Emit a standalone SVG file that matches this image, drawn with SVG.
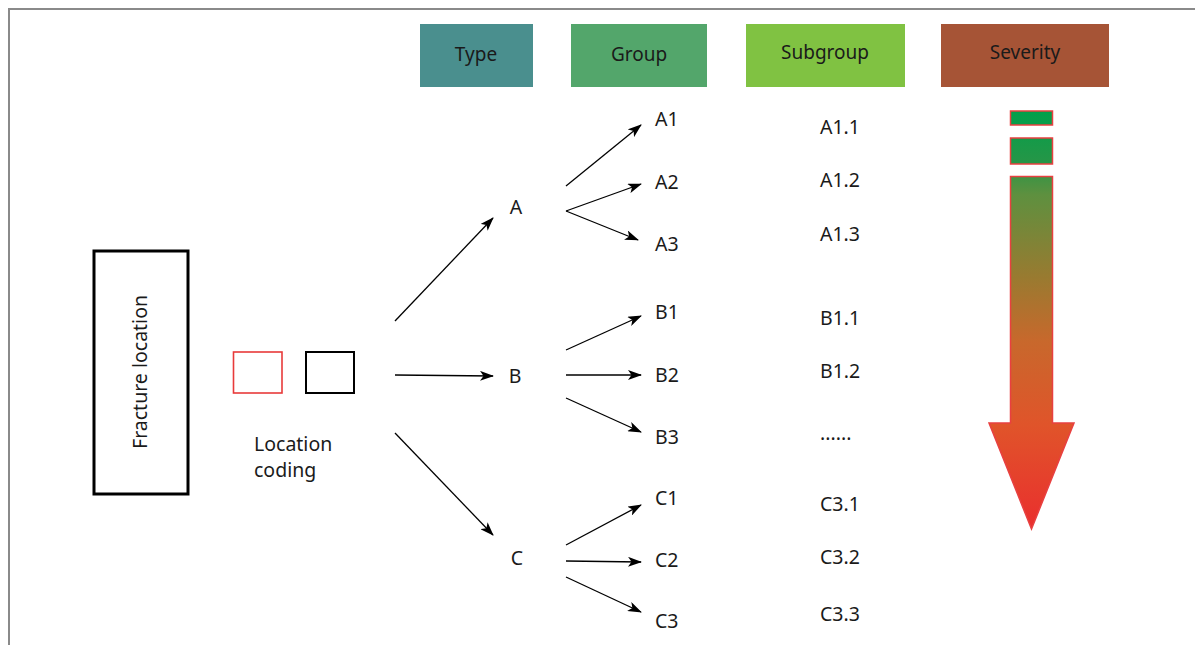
<svg xmlns="http://www.w3.org/2000/svg" width="1195" height="645" viewBox="0 0 1195 645">
<style>
  text { font-family: "Noto Sans", "Open Sans", sans-serif; fill: #1a1a1a; }
  .lbl { font-size: 19.5px; }
  .hdr { font-size: 19px; text-anchor: middle; }
  .conn line { stroke: #000; stroke-width: 1.3; marker-end: url(#ah); }
</style>
<defs>
  <marker id="ah" viewBox="0 0 14 10" refX="13" refY="5" markerWidth="14" markerHeight="10" markerUnits="userSpaceOnUse" orient="auto">
    <path d="M0,0 L14,5 L0,10 L3.5,5 z" fill="#000"/>
  </marker>
  <linearGradient id="sev" gradientUnits="userSpaceOnUse" x1="0" y1="111" x2="0" y2="530">
    <stop offset="0" stop-color="#00a04b"/>
    <stop offset="0.12" stop-color="#259647"/>
    <stop offset="0.2" stop-color="#5e903f"/>
    <stop offset="0.4" stop-color="#9a7a30"/>
    <stop offset="0.55" stop-color="#c8682c"/>
    <stop offset="0.75" stop-color="#e0542a"/>
    <stop offset="1" stop-color="#ea2e2e"/>
  </linearGradient>
</defs>
<rect width="1195" height="645" fill="#fff"/>
<path d="M9,645 V9 H1195" fill="none" stroke="#8a8a8a" stroke-width="2"/>

<g id="headers">
  <g id="hdr-type"><rect x="420" y="24" width="113" height="63" fill="#4a8f8e"/><text class="hdr" x="476" y="61">Type</text></g>
  <g id="hdr-group"><rect x="571" y="24" width="136" height="63" fill="#53a66b"/><text class="hdr" x="639" y="61">Group</text></g>
  <g id="hdr-subgroup"><rect x="746" y="24" width="159" height="63" fill="#80c242"/><text class="hdr" x="825" y="59">Subgroup</text></g>
  <g id="hdr-severity"><rect x="941" y="24" width="168" height="63" fill="#a65436"/><text class="hdr" x="1025" y="59">Severity</text></g>
</g>

<g id="fracture-location">
  <rect x="94" y="251" width="94" height="243" fill="none" stroke="#000" stroke-width="3"/>
  <text class="lbl" transform="translate(147,372) rotate(-90)" text-anchor="middle">Fracture location</text>
</g>

<g id="location-coding">
  <rect x="233.5" y="352" width="48.5" height="41" fill="none" stroke="#e83a3a" stroke-width="1.6"/>
  <rect x="306" y="352" width="48" height="41" fill="none" stroke="#000" stroke-width="2"/>
  <text class="lbl" x="254" y="451">Location</text>
  <text class="lbl" x="254" y="477">coding</text>
</g>

<g id="types">
  <text class="lbl" x="516" y="214" text-anchor="middle">A</text>
  <text class="lbl" x="515" y="383" text-anchor="middle">B</text>
  <text class="lbl" x="517" y="565" text-anchor="middle">C</text>
</g>

<g id="groups">
  <text class="lbl" x="655" y="126">A1</text>
  <text class="lbl" x="655" y="189">A2</text>
  <text class="lbl" x="655" y="251">A3</text>
  <text class="lbl" x="655" y="319">B1</text>
  <text class="lbl" x="655" y="382">B2</text>
  <text class="lbl" x="655" y="444">B3</text>
  <text class="lbl" x="655" y="505">C1</text>
  <text class="lbl" x="655" y="567">C2</text>
  <text class="lbl" x="655" y="628">C3</text>
</g>

<g id="subgroups">
  <text class="lbl" x="820" y="134">A1.1</text>
  <text class="lbl" x="820" y="187">A1.2</text>
  <text class="lbl" x="820" y="241">A1.3</text>
  <text class="lbl" x="820" y="325">B1.1</text>
  <text class="lbl" x="820" y="378">B1.2</text>
  <text class="lbl" x="820" y="440">......</text>
  <text class="lbl" x="820" y="511">C3.1</text>
  <text class="lbl" x="820" y="564">C3.2</text>
  <text class="lbl" x="820" y="621">C3.3</text>
</g>

<g id="severity-arrow" fill="url(#sev)" stroke="#e84040" stroke-width="1.5">
  <rect x="1010.5" y="111" width="42" height="14"/>
  <rect x="1010.5" y="138" width="42" height="26"/>
  <path d="M1010.5,176.5 H1052.5 V423 H1074 L1031.5,529 L989,423 H1010.5 Z"/>
</g>

<g id="connectors" class="conn">
  <line x1="395" y1="321" x2="493" y2="218"/>
  <line x1="395" y1="375" x2="493" y2="376"/>
  <line x1="395" y1="433" x2="493" y2="535"/>
  <line x1="566" y1="186" x2="641" y2="125"/>
  <line x1="566" y1="211" x2="641" y2="184"/>
  <line x1="566" y1="211" x2="638" y2="240"/>
  <line x1="566" y1="350" x2="641" y2="316"/>
  <line x1="566" y1="375" x2="641" y2="375"/>
  <line x1="566" y1="398" x2="641" y2="432"/>
  <line x1="566" y1="545" x2="641" y2="505"/>
  <line x1="566" y1="561" x2="641" y2="562"/>
  <line x1="566" y1="577" x2="641" y2="612"/>
</g>
</svg>
